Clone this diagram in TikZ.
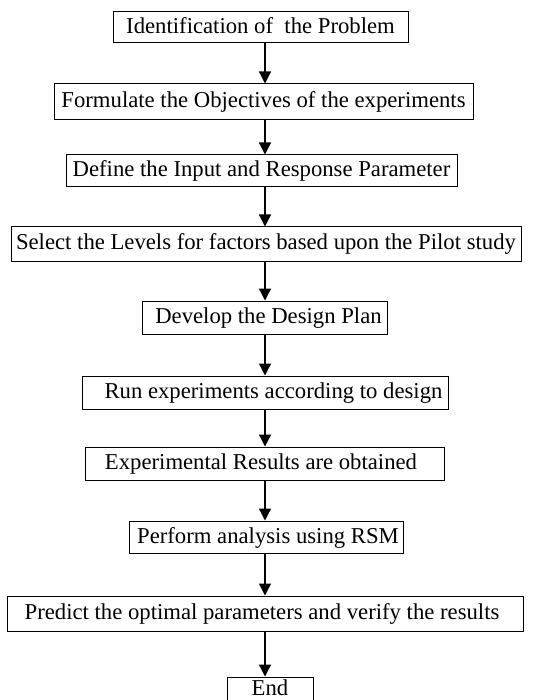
\documentclass[tikz,border=0pt]{standalone}
\usepackage{fontspec}
\setmainfont{Liberation Serif}
\usetikzlibrary{arrows.meta}
\begin{document}
\begin{tikzpicture}[x=1pt,y=-1pt,
  box/.style={draw=black,line width=1pt,inner sep=0pt,text height=16pt,text depth=4pt,
    font=\fontsize{22.7}{27}\selectfont},
  arr/.style={draw=black,line width=1.3pt,-{Triangle[length=12pt,width=12pt]}}]
\useasboundingbox (0,0) rectangle (546,700);
\clip (0,0) rectangle (546,700);
\coordinate (ax) at (265,0);
\node[box,minimum width=295pt,minimum height=31pt] (n1) at (260.5,27.5) {Identification of\ \ the Problem};
\node[box,minimum width=419pt,minimum height=36pt] (n2) at (263.5,102) {Formulate the Objectives of the experiments};
\node[box,minimum width=391pt,minimum height=32pt] (n3) at (261.5,171) {Define the Input and Response Parameter};
\node[box,minimum width=510pt,minimum height=34pt] (n4) at (266,244) {Select the Levels for factors based upon the Pilot study};
\node[box,minimum width=245pt,minimum height=33pt] (n5) at (264.5,317.5) {\hspace*{8pt}Develop the Design Plan};
\node[box,minimum width=366pt,minimum height=33pt] (n6) at (265,392.5) {\hspace*{17pt}Run experiments according to design};
\node[box,minimum width=359pt,minimum height=33pt] (n7) at (264.5,463.5) {Experimental Results are obtained\hspace*{7pt}};
\node[box,minimum width=274pt,minimum height=32pt] (n8) at (266,537) {\hspace*{4pt}Perform analysis using RSM};
\node[box,minimum width=516pt,minimum height=35pt] (n9) at (265,613.5) {Predict the optimal parameters and verify the results\hspace*{6pt}};
\node[box,minimum width=86pt,minimum height=34pt] (n10) at (270,694) {\raisebox{5pt}{End}};
\draw[arr] (n1.south -| ax) -- (n2.north -| ax);
\draw[arr] (n2.south -| ax) -- (n3.north -| ax);
\draw[arr] (n3.south -| ax) -- (n4.north -| ax);
\draw[arr] (n4.south -| ax) -- (n5.north -| ax);
\draw[arr] (n5.south -| ax) -- (n6.north -| ax);
\draw[arr] (n6.south -| ax) -- (n7.north -| ax);
\draw[arr] (n7.south -| ax) -- (n8.north -| ax);
\draw[arr] (n8.south -| ax) -- (n9.north -| ax);
\draw[arr] (n9.south -| ax) -- (n10.north -| ax);
\end{tikzpicture}
\end{document}
